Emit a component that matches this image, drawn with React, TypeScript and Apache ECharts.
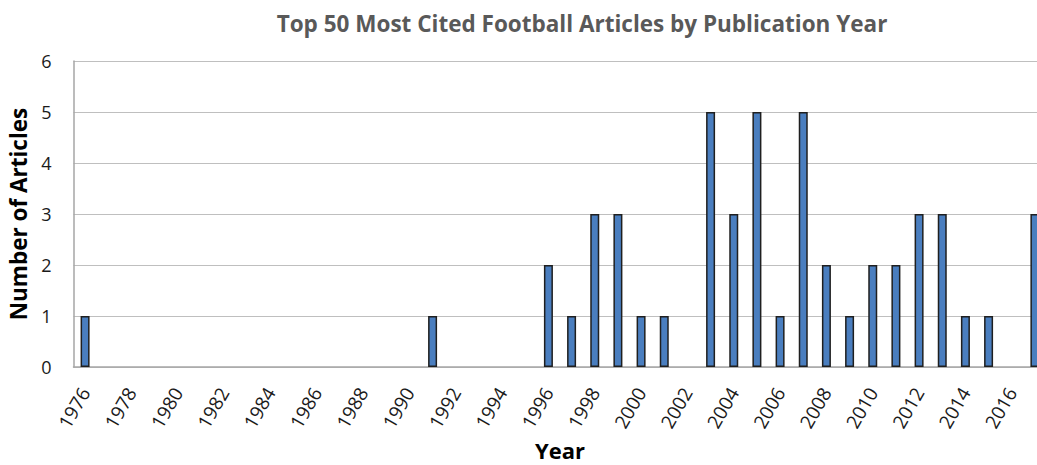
import React, { useEffect, useRef } from "react";
import * as echarts from "echarts";

const years = [
  "1976", "1977", "1978", "1979", "1980", "1981", "1982", "1983", "1984", "1985",
  "1986", "1987", "1988", "1989", "1990", "1991", "1992", "1993", "1994", "1995",
  "1996", "1997", "1998", "1999", "2000", "2001", "2002", "2003", "2004", "2005",
  "2006", "2007", "2008", "2009", "2010", "2011", "2012", "2013", "2014", "2015",
  "2016", "2017",
];

const articles = [
  1, 0, 0, 0, 0, 0, 0, 0, 0, 0,
  0, 0, 0, 0, 0, 1, 0, 0, 0, 0,
  2, 1, 3, 3, 1, 1, 0, 5, 3, 5,
  1, 5, 2, 1, 2, 2, 3, 3, 1, 1,
  0, 3,
];

const yTicks = [0, 1, 2, 3, 4, 5, 6];

export default function App() {
  const ref = useRef<HTMLDivElement>(null);
  useEffect(() => {
    if (!ref.current) return;
    const chart = echarts.init(ref.current, undefined, { renderer: "svg" });
    chart.setOption({
      animation: false,
      backgroundColor: "#ffffff",
      title: {
        text: "Top 50 Most Cited Football Articles by Publication Year",
        left: 577,
        textAlign: "center",
        top: 7,
        textStyle: {
          fontFamily: "Open Sans",
          fontWeight: "bold",
          fontSize: 22.5,
          color: "#595959",
        },
      },
      grid: {
        left: 73.5,
        top: 61,
        width: 973,
        height: 306,
        containLabel: false,
        outerBoundsMode: "none",
      },
      xAxis: {
        type: "category",
        data: years,
        name: "Year",
        nameLocation: "middle",
        nameGap: 72,
        nameMoveOverlap: false,
        nameTextStyle: {
          fontFamily: "Open Sans",
          fontWeight: "bold",
          fontSize: 22,
          color: "#000000",
        },
        axisLine: { lineStyle: { color: "#a6a6a6", width: 1.5 } },
        axisTick: { show: false },
        axisLabel: {
          interval: 1,
          rotate: 60,
          margin: 22,
          fontFamily: "Open Sans",
          fontSize: 19,
          color: "#1a1a1a",
        },
      },
      yAxis: {
        type: "value",
        min: yTicks[0],
        max: yTicks[yTicks.length - 1],
        interval: 1,
        name: "Number of Articles",
        nameLocation: "middle",
        nameGap: 42,
        nameTextStyle: {
          fontFamily: "Open Sans",
          fontWeight: "bold",
          fontSize: 22.5,
          color: "#000000",
        },
        axisLine: { show: true, lineStyle: { color: "#a6a6a6", width: 1.5 } },
        axisTick: { show: false },
        axisLabel: {
          margin: 22,
          fontFamily: "Open Sans",
          fontSize: 18,
          color: "#1a1a1a",
        },
        splitLine: { lineStyle: { color: "#bfbfbf", width: 1.2 } },
      },
      series: [
        {
          type: "bar",
          data: articles.map((v) =>
            v === 0 ? { value: v, itemStyle: { borderWidth: 0, opacity: 0 } } : v
          ),
          barWidth: 9,
          itemStyle: {
            color: "#4a7ebf",
            borderColor: "#1f1f1f",
            borderWidth: 1.5,
          },
        },
      ],
    });
    return () => chart.dispose();
  }, []);
  return (
    <div
      ref={ref}
      style={{ position: "fixed", left: 0, top: 0, width: 1037, height: 465 }}
    />
  );
}
